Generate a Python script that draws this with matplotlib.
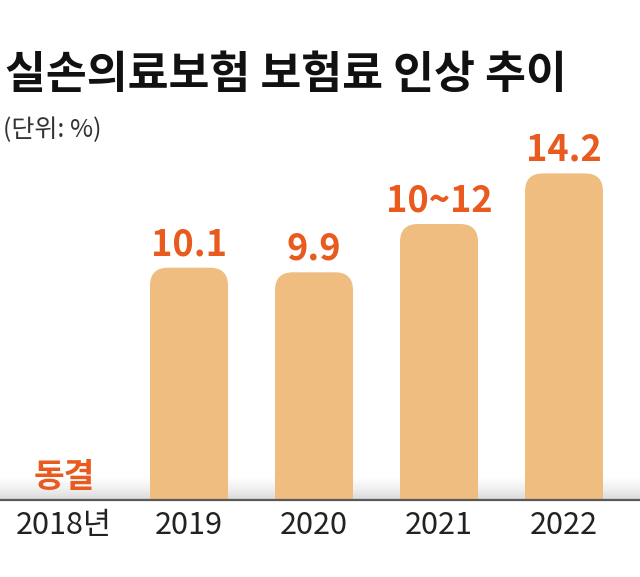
import numpy as np
import matplotlib
matplotlib.use("Agg")
import matplotlib.pyplot as plt
from matplotlib.patches import FancyBboxPatch

plt.rcParams['font.family'] = ['Noto Sans CJK KR', 'DejaVu Sans']

# 데이터
years = ["2018년", "2019", "2020", "2021", "2022"]
values = [0, 10.1, 9.9, 12, 14.2]
value_labels = ["동결", "10.1", "9.9", "10~12", "14.2"]

bar_color = '#EFBD80'
label_color = '#E85A1E'

W, H = 640, 577
fig = plt.figure(figsize=(W / 100, H / 100), dpi=100)
ax = fig.add_axes([0, 77 / H, 1, 360 / H])

x = np.arange(len(years))
ax.set_xlim(-64 / 125, (W - 64) / 125)
ax.set_ylim(0, 360 / 23)

bars = ax.bar(x, values, width=0.624, color=bar_color, zorder=2)

# 둥근 모서리 막대로 교체
px_x = 125.0
px_y = 23.0
radius = 18 / px_x
for b in bars:
    h = b.get_height()
    b.set_visible(False)
    if h <= 0:
        continue
    x0 = b.get_x()
    w = b.get_width()
    p = FancyBboxPatch((x0 + radius, -2), w - 2 * radius, h + 2 - radius * px_x / px_y,
                       boxstyle=f"round,pad={radius}",
                       mutation_aspect=px_x / px_y,
                       fc=bar_color, ec='none', zorder=2)
    ax.add_patch(p)

# 바닥 그림자
grad = np.linspace(0, 1, 100).reshape(-1, 1)
ax.imshow(grad, extent=(ax.get_xlim()[0], ax.get_xlim()[1], 0, 1.0),
          aspect='auto', cmap='Greys', vmin=0, vmax=4, origin='upper', zorder=1)
ax.set_xlim(-64 / 125, (W - 64) / 125)
ax.set_ylim(0, 360 / 23)
ax.axhline(0, color='#5a5a5a', lw=1.6, zorder=3, clip_on=False)

# 값 라벨
for i, (v, lab) in enumerate(zip(values, value_labels)):
    size = 24 if v == 0 else 26
    ax.annotate(lab, (x[i], v), xytext=(0, 9), textcoords='offset points',
                ha='center', va='baseline', fontsize=size, fontweight='bold',
                color=label_color, zorder=4)

ax.set_xticks(x)
ax.set_xticklabels(years, fontsize=22, color='#222222')
ax.tick_params(axis='x', length=0, pad=7)
ax.set_yticks([])
for s in ax.spines.values():
    s.set_visible(False)

# 제목
fig.text(5 / W, 1 - 75 / H, "실손의료보험 보험료 인상 추이", fontsize=32,
         fontweight='bold', color='#111111', ha='left', va='center')
fig.text(3 / W, 1 - 130 / H, "(단위: %)", fontsize=18, color='#333333',
         ha='left', va='center')

fig.savefig("out.png", dpi=100, facecolor='white')
